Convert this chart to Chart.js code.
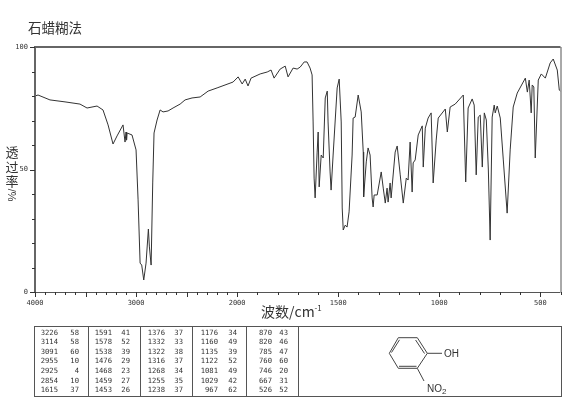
<!DOCTYPE html>
<html><head><meta charset="utf-8">
<script src="https://cdn.jsdelivr.net/npm/chart.js@4"></script>
<style>
html,body{margin:0;padding:0;background:#fff;width:570px;height:413px;overflow:hidden}
#c{position:absolute;left:0;top:0}
.a{position:absolute;color:#333;white-space:nowrap}
.cj{font-family:"Noto Sans CJK SC";font-size:13px;line-height:14px;text-align:center;width:14px}
.cell{font-family:"DejaVu Sans Mono";font-size:7.2px;line-height:9.6px;color:#333;text-align:right}
.box{position:absolute;border:1px solid #555;box-sizing:border-box;top:326px;height:71px;background:transparent}
</style></head><body>
<canvas id="c" width="570" height="413"></canvas>
<div class="a cj" style="left:5px;top:145px">透</div>
<div class="a cj" style="left:5px;top:160px">过</div>
<div class="a cj" style="left:5px;top:174px">率</div>
<div class="a" style="left:2px;top:189px;width:20px;line-height:12px;text-align:center;font:11px/12px 'Liberation Sans';transform:rotate(-90deg)">%/</div>
<div class="a" style="left:261px;top:302px;font:14px/18px 'Noto Sans CJK SC'">波数/cm<sup style="font-size:8px;line-height:0">-1</sup></div>
<div class="a" style="left:28px;top:18px;font:13.5px/18px 'Noto Sans CJK SC'">石蜡糊法</div>
<div id="table"></div>
<svg style="position:absolute;left:380px;top:330px" width="90" height="66" viewBox="380 330 90 66" fill="none" stroke="#444" stroke-width="1">
<path d="M398.3 337.7L417.3 337.7L427.3 353.3L417.3 368.3L398.3 368.3L389.3 353.3Z"/>
<path d="M391.5 352.5L399.5 339.8M415.6 340L424.5 353.5M399 366.3L416.5 366.3"/>
<path d="M427.3 353.3L442 353.3M417.3 368.3L424 381"/>
<text x="444" y="357" fill="#333" stroke="none" font-family="Liberation Sans" font-size="10">OH</text>
<text x="427" y="392" fill="#333" stroke="none" font-family="Liberation Sans" font-size="10">NO<tspan font-size="8" dy="2">2</tspan></text>
</svg>
<script>
const wavenumbers=[4000,3970,3852,3703,3555,3485,3386,3327,3277,3228,3188,3129,3109,3099,3094,3089,3040,3000,2980,2960,2944,2924,2901,2878,2868,2851,2835,2822,2792,2762,2733,2683,2634,2564,2515,2446,2366,2287,2198,2040,1995,1975,1960,1946,1931,1886,1851,1832,1817,1787,1762,1748,1723,1703,1688,1668,1654,1639,1629,1624,1619,1614,1604,1599,1594,1584,1574,1564,1554,1550,1540,1535,1525,1505,1495,1485,1480,1475,1465,1456,1446,1431,1426,1416,1401,1386,1376,1374,1361,1352,1342,1332,1327,1322,1307,1287,1277,1267,1258,1253,1243,1238,1218,1208,1193,1178,1163,1154,1144,1134,1129,1119,1104,1084,1079,1069,1055,1040,1030,1015,1005,970,960,946,921,881,869,857,837,827,817,807,797,787,777,767,757,748,738,728,723,713,698,683,664,649,634,614,574,564,555,545,540,532,525,510,495,475,451,436,416,406,400];
const transmittance=[80.0,80.4,78.4,77.6,76.7,75.1,75.9,74.3,68.2,60.4,63.7,68.2,61.2,65.3,62,64.9,64.1,58,37.6,11.8,11,4.9,11.8,25.7,18.4,11,44.5,64.9,70.2,74.3,73.5,73.9,75.1,76.7,78.4,79.2,79.6,82.0,83.3,85.7,87.8,84.9,86.9,84.1,87.3,89.0,89.8,90.6,87.3,91.0,92.2,87.8,91.4,91.0,91.8,93.9,93.9,91.4,88.6,69.4,46.5,38.4,57.1,65.3,42.9,55.9,54.7,79.2,82.0,69.4,49.0,41.6,55.9,83.3,86.9,69.4,34.3,25.3,27.3,26.5,32.7,55.9,71.0,71.4,80.4,73.5,57.1,38.8,53.1,58.8,55.9,38.4,34.7,39.6,39.6,49.0,42.4,36.3,42.4,36.7,44.5,38.4,57.1,59.6,47.8,36.3,46.5,45.7,61.2,40.8,52.7,53.9,64.1,67.8,51.0,66.9,71.0,73.1,44.5,62.0,71.0,74.7,65.3,75.5,76.7,80.4,44.9,75.1,78.8,76.3,47.8,71.4,72.2,51.0,73.1,70.2,49.8,21.2,71.4,76.3,73.1,75.9,71.0,53.9,32.2,58.0,75.5,81.2,87.3,81.6,86.5,73.1,84.5,83.7,54.7,86.5,89.0,87.3,93.5,95.1,90.6,82.4,82];
const xLabels=[4000,3000,2000,1500,1000,500];
const xLongTicks=[4000,3500,3000,2500,2000,1500,1000,500];
const xTicks=[4000,3900,3800,3700,3600,3500,3400,3300,3200,3100,3000,2900,2800,2700,2600,2500,2400,2300,2200,2100,2000,1900,1800,1700,1600,1500,1400,1300,1200,1100,1000,900,800,700,600,500,400];
const yLabels=[0,50,100];
const yTicks=[0,10,20,30,40,50,60,70,80,90,100];
const peakCols=[
 [[3226,58],[3114,58],[3091,60],[2955,10],[2925,4],[2854,10],[1615,37]],
 [[1591,41],[1578,52],[1538,39],[1476,29],[1468,23],[1459,27],[1453,26]],
 [[1376,37],[1332,33],[1322,38],[1316,37],[1268,34],[1255,35],[1238,37]],
 [[1176,34],[1160,49],[1135,39],[1122,52],[1081,49],[1029,42],[967,62]],
 [[870,43],[820,46],[785,47],[760,60],[746,20],[667,31],[526,52]]
];
// The abscissa changes scale at 2000 cm-1 (double spread below it)
const pos=w=>w>=2000?4000-w:2000+(2000-w)*2;
const inv=p=>p<=2000?4000-p:2000-(p-2000)/2;

const tb=document.getElementById('table');
const seps=[34,88,140,192,246,298,561];
seps.slice(0,-1).forEach((l,i)=>{const d=document.createElement('div');d.className='box';d.style.left=l+'px';d.style.width=(seps[i+1]-l+1)+'px';tb.appendChild(d);});
const wnRight=[58,112,165,218,272],tRight=[79,130,183,237,288];
peakCols.forEach((col,i)=>col.forEach((r,j)=>{
 [[r[0],wnRight[i]],[r[1],tRight[i]]].forEach(([t,right])=>{
  const d=document.createElement('div');d.className='a cell';d.textContent=t;
  d.style.right=(570-right)+'px';d.style.top=(327.5+j*9.6)+'px';tb.appendChild(d);});
}));

const frame={id:'frame',afterDraw(ch){
 const {ctx,chartArea:a,scales:{x,y}}=ch;ctx.save();
 ctx.strokeStyle='#666';ctx.lineWidth=2;ctx.beginPath();
 ctx.moveTo(a.left,a.bottom+.5);ctx.lineTo(a.left,a.top);ctx.lineTo(a.right,a.top);ctx.stroke();
 ctx.strokeStyle='#555';ctx.lineWidth=1;ctx.beginPath();
 ctx.moveTo(a.right+.5,a.top);ctx.lineTo(a.right+.5,a.bottom);
 ctx.moveTo(a.left,a.bottom+.5);ctx.lineTo(a.right,a.bottom+.5);ctx.stroke();
 ctx.strokeStyle='#333';ctx.beginPath();
 xTicks.forEach(w=>{const p=Math.round(x.getPixelForValue(pos(w)))+.5;const l=xLongTicks.includes(w)?4:2;
  ctx.moveTo(p,a.bottom);ctx.lineTo(p,a.bottom+l+1);});
 yTicks.forEach(v=>{const p=Math.round(y.getPixelForValue(v))+.5;const l=yLabels.includes(v)?4:2;
  ctx.moveTo(a.left-l-1,p);ctx.lineTo(a.left,p);});
 ctx.stroke();ctx.restore();
}};
new Chart(document.getElementById('c'),{
 type:'line',
 data:{datasets:[{data:wavenumbers.map((w,i)=>({x:pos(w),y:transmittance[i]})),borderColor:'#333',borderWidth:1,pointRadius:0,tension:0,fill:false}]},
 plugins:[frame],
 options:{responsive:false,animation:false,
  layout:{padding:{left:0,top:47,right:9.5,bottom:86}},
  plugins:{legend:{display:false},tooltip:{enabled:false},
   title:{display:false}},
  scales:{
   x:{type:'linear',min:0,max:5200,
    afterBuildTicks(s){s.ticks=xLabels.map(w=>({value:pos(w)}));},
    afterFit(s){s.height=35;},
    grid:{display:false,drawTicks:false},border:{display:false},
    ticks:{autoSkip:false,maxRotation:0,padding:7,color:'#333',font:{family:'"DejaVu Sans Mono"',size:7},callback:v=>String(Math.round(inv(v)))}},
   y:{type:'linear',min:0,max:100,
    afterBuildTicks(s){s.ticks=yLabels.map(v=>({value:v}));},
    afterFit(s){s.width=35;},
    grid:{display:false,drawTicks:false},border:{display:false},
    ticks:{autoSkip:false,padding:7,color:'#333',font:{family:'"DejaVu Sans Mono"',size:7},callback:v=>String(v)}}
  }}
});
</script>
</body></html>
